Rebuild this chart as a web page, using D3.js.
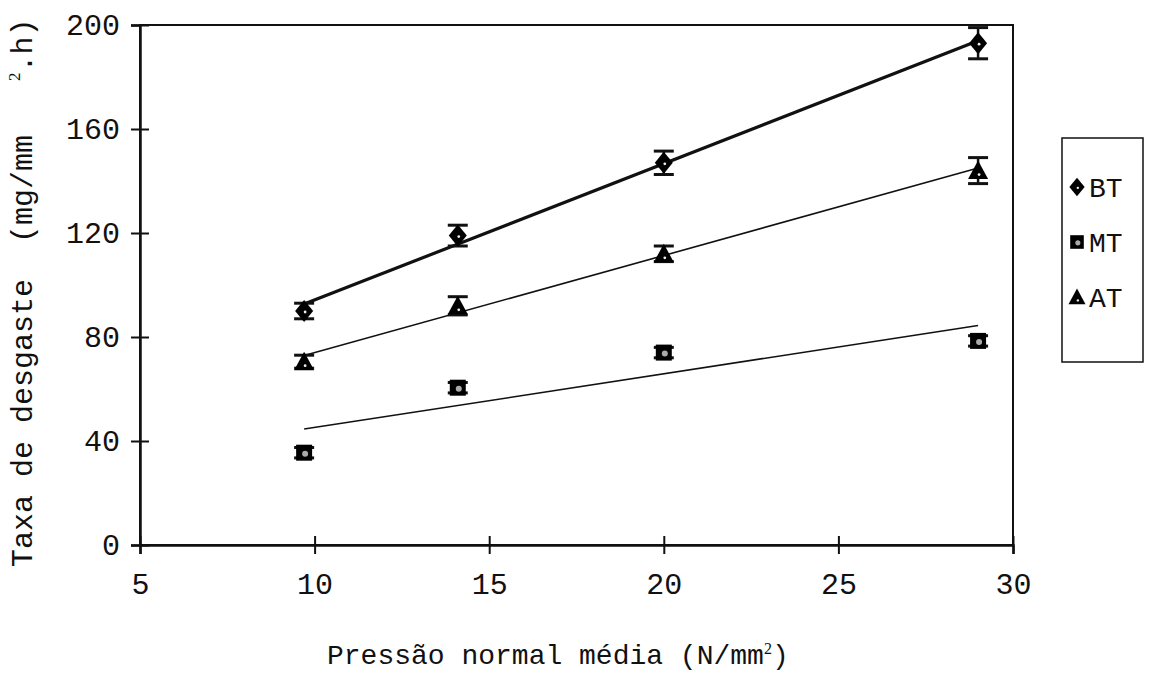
<!DOCTYPE html>
<html>
<head>
<meta charset="utf-8">
<script src="https://cdn.jsdelivr.net/npm/d3@7"></script>
<style>
  body { margin: 0; background: #fff; }
  svg { display: block; }
  text { font-family: "Liberation Mono", "Courier New", monospace; fill: #111; }
</style>
</head>
<body>
<svg id="chart" width="1149" height="673"></svg>
<script>
// pressão normal média (N/mm2)
const pressao = [9.7, 14.1, 20, 29];

// taxa de desgaste por série + barras de erro
const bt = [90, 119, 147, 193];
const btErr = [3, 4, 4.5, 6];
const mt = [35.5, 60.5, 74, 78.5];
const mtErr = [2, 2, 2, 2];
const at = [70.5, 92, 112, 144];
const atErr = [2.5, 3.5, 3, 5];

const xTicks = [5, 10, 15, 20, 25, 30];
const yTicks = [0, 40, 80, 120, 160, 200];
const seriesNames = ["BT", "MT", "AT"];

const svg = d3.select("#chart"),
    margin = {top: 25, right: 136, bottom: 128, left: 140},
    width = 1149 - margin.left - margin.right,
    height = 673 - margin.top - margin.bottom,
    g = svg.append("g").attr("transform", "translate(" + margin.left + "," + margin.top + ")");

const x = d3.scaleLinear().domain([5, 30]).range([0, width]);
const y = d3.scaleLinear().domain([0, 200]).range([height, 0]);

// least squares fit for each series
const fit = (ys) => {
    const mx = d3.mean(pressao), my = d3.mean(ys);
    let sxy = 0, sxx = 0;
    pressao.forEach((px, i) => { sxy += (px - mx) * (ys[i] - my); sxx += (px - mx) * (px - mx); });
    const b = sxy / sxx, a = my - b * mx;
    const x0 = d3.min(pressao), x1 = d3.max(pressao);
    return [[x0, a + b * x0], [x1, a + b * x1]];
};

const series = [
    {name: "BT", values: bt, err: btErr, shape: "diamond", lw: 3.2},
    {name: "MT", values: mt, err: mtErr, shape: "square", lw: 1.6},
    {name: "AT", values: at, err: atErr, shape: "triangle", lw: 1.6}
];

// plot frame
g.append("rect")
    .attr("x", 0).attr("y", 0)
    .attr("width", width).attr("height", height)
    .attr("fill", "none")
    .attr("stroke", "#111")
    .attr("stroke-width", 2);

// x axis
const xAxis = g.append("g")
    .attr("transform", "translate(0," + height + ")")
    .call(d3.axisBottom(x).tickValues(xTicks).tickSize(9).tickPadding(19));
xAxis.select(".domain").attr("stroke-width", 2.5).attr("stroke", "#111");
xAxis.selectAll(".tick line").attr("y1", -9).attr("y2", 9).attr("stroke-width", 2).attr("stroke", "#111");
xAxis.selectAll(".tick text").style("font-size", "30px").attr("font-family", null);

// y axis
const yAxis = g.append("g")
    .call(d3.axisLeft(y).tickValues(yTicks).tickSize(9).tickPadding(11));
yAxis.select(".domain").attr("stroke-width", 2.5).attr("stroke", "#111");
yAxis.selectAll(".tick line").attr("x1", -9).attr("x2", 9).attr("stroke-width", 2).attr("stroke", "#111");
yAxis.selectAll(".tick text").style("font-size", "30px").attr("font-family", null);

// fitted lines
const line = d3.line().x(d => x(d[0])).y(d => y(d[1]));
series.forEach(s => {
    g.append("path")
        .attr("d", line(fit(s.values)))
        .attr("fill", "none")
        .attr("stroke", "#111")
        .attr("stroke-width", s.lw);
});

// marker shapes
const shapePath = (shape, r) => {
    if (shape === "diamond") return `M0,${-r * 1.1}L${r * 0.9},0L0,${r * 1.1}L${-r * 0.9},0Z`;
    if (shape === "square") return `M${-r * 0.8},${-r * 0.8}H${r * 0.8}V${r * 0.8}H${-r * 0.8}Z`;
    return `M0,${-r}L${r},${r * 0.85}H${-r}Z`;
};
const drawMarker = (sel, shape) => {
    sel.append("path").attr("d", shapePath(shape, 10)).attr("fill", "#000");
    // small light speckle like the scan
    sel.append("circle")
        .attr("cx", 1).attr("cy", shape === "triangle" ? 4 : 1)
        .attr("r", shape === "square" ? 3 : 1.4)
        .attr("fill", shape === "square" ? "#aaa" : "#eee");
};

// error bars + markers
series.forEach(s => {
    const pts = g.append("g");
    pressao.forEach((px, i) => {
        const cx = x(px), v = s.values[i], e = s.err[i];
        const eb = pts.append("g");
        eb.append("line")
            .attr("x1", cx).attr("x2", cx)
            .attr("y1", y(v + e)).attr("y2", y(v - e))
            .attr("stroke", "#111").attr("stroke-width", 2.5);
        [v + e, v - e].forEach(ev => {
            eb.append("line")
                .attr("x1", cx - 10).attr("x2", cx + 10)
                .attr("y1", y(ev)).attr("y2", y(ev))
                .attr("stroke", "#111").attr("stroke-width", 3);
        });
        const m = pts.append("g").attr("transform", "translate(" + cx + "," + y(v) + ")");
        drawMarker(m, s.shape);
    });
});

// x axis title
const xt = svg.append("text")
    .attr("x", 327)
    .attr("y", 664)
    .style("font-size", "28px")
    .text("Pressão normal média (N/mm");
xt.append("tspan").attr("dy", -10).style("font-size", "16px").style("font-family", "Liberation Serif").text("2");
xt.append("tspan").attr("dy", 10).text(")");

// y axis title
const yt = svg.append("text")
    .attr("transform", "translate(32,567) rotate(-90)")
    .style("font-size", "30px")
    .attr("xml:space", "preserve")
    .text("Taxa de desgaste  (mg/mm   ");
yt.append("tspan").attr("dy", -12).style("font-size", "17px").style("font-family", "Liberation Serif").text("2");
yt.append("tspan").attr("dy", 12).text(".h)");

// legend
const leg = svg.append("g");
leg.append("rect")
    .attr("x", 1062).attr("y", 138)
    .attr("width", 81).attr("height", 224)
    .attr("fill", "#fff")
    .attr("stroke", "#111")
    .attr("stroke-width", 1.5);
series.forEach((s, i) => {
    const row = leg.append("g").attr("transform", "translate(1077," + (187 + i * 55) + ")");
    drawMarker(row.append("g").attr("transform", "scale(0.85)"), s.shape);
    row.append("text")
        .attr("x", 12)
        .attr("dy", "0.35em")
        .style("font-size", "28px")
        .text(seriesNames[i]);
});
</script>
</body>
</html>
